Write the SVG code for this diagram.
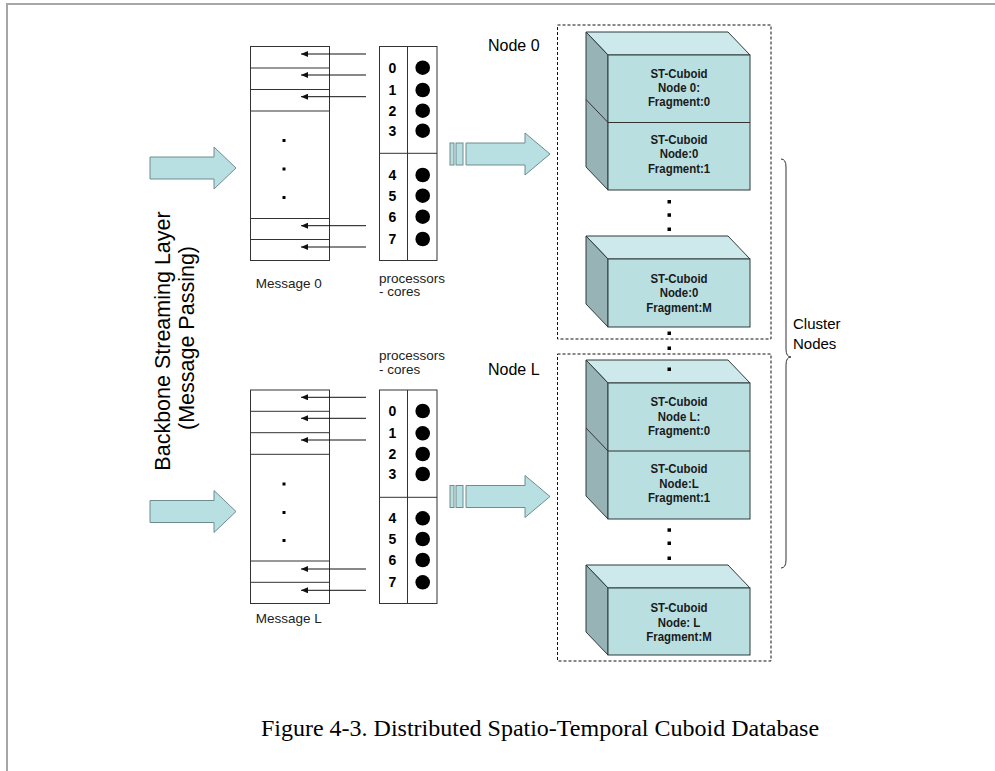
<svg xmlns="http://www.w3.org/2000/svg" width="995" height="771" viewBox="0 0 995 771">
<defs>
<style>
.frame{stroke:#a6a6a6;stroke-width:2;fill:none}
.box{fill:#fff;stroke:#333;stroke-width:1}
.ln{stroke:#333;stroke-width:1;fill:none}
.msgarrow{stroke:#111;stroke-width:1;fill:none;marker-end:url(#ah)}
.big{fill:#b8dfe1;stroke:#6f8c8e;stroke-width:1}
.front{fill:#b9dfe1;stroke:#2f3b3b;stroke-width:1}
.top{fill:#cde9eb;stroke:#2f3b3b;stroke-width:1}
.side{fill:#98b3b5;stroke:#2f3b3b;stroke-width:1}
.dash{fill:none;stroke:#111;stroke-width:1;stroke-dasharray:3,2}
.num{font-family:"Liberation Sans",Arial,sans-serif;font-weight:bold;font-size:14px;fill:#000;text-anchor:middle}
.lbl{font-family:"Liberation Sans",Arial,sans-serif;font-size:13.5px;fill:#222}
.node{font-family:"Liberation Sans",Arial,sans-serif;font-size:16px;fill:#000}
.cub{font-family:"Liberation Sans",Arial,sans-serif;font-weight:bold;font-size:13px;fill:#1a1a1a;text-anchor:middle}
.side-t{font-family:"Liberation Sans",Arial,sans-serif;font-size:21.5px;fill:#000;text-anchor:middle}
.clu{font-family:"Liberation Sans",Arial,sans-serif;font-size:15px;fill:#000}
.cap{font-family:"Liberation Serif","Times New Roman",serif;font-size:24px;fill:#000;text-anchor:middle}
</style>
<marker id="ah" markerWidth="7" markerHeight="6" refX="7" refY="3" orient="auto" markerUnits="userSpaceOnUse">
<path d="M0,0 L7,3 L0,6 Z" fill="#111"/>
</marker>
</defs>
<rect width="995" height="771" fill="#fff"/>
<line class="frame" x1="7" y1="4" x2="995" y2="4"/>
<line class="frame" x1="7" y1="3" x2="7" y2="771"/>

<g id="backbone-label">
<text class="side-t" transform="translate(170,341) rotate(-90)">Backbone Streaming Layer</text>
<text class="side-t" transform="translate(194,338) rotate(-90)">(Message Passing)</text>
</g>

<g id="input-arrow-0"><polygon class="big" points="150,157 214,157 214,147 236,168 214,189 214,179 150,179"/></g>
<g id="input-arrow-L"><polygon class="big" points="150,500.5 214,500.5 214,490.5 236,511.5 214,532.5 214,522.5 150,522.5"/></g>

<g id="message-0">
<rect class="box" x="250.5" y="46.5" width="79" height="214"/>
<line class="ln" x1="250.5" y1="68" x2="329.5" y2="68"/>
<line class="ln" x1="250.5" y1="89.5" x2="329.5" y2="89.5"/>
<line class="ln" x1="250.5" y1="111" x2="329.5" y2="111"/>
<line class="ln" x1="250.5" y1="218.5" x2="329.5" y2="218.5"/>
<line class="ln" x1="250.5" y1="239.5" x2="329.5" y2="239.5"/>
<rect x="282.5" y="139" width="3" height="3" fill="#000"/>
<rect x="282.5" y="167.5" width="3" height="3" fill="#000"/>
<rect x="282.5" y="196" width="3" height="3" fill="#000"/>
<text class="lbl" x="288.7" y="288" text-anchor="middle">Message 0</text>
</g>

<g id="message-L">
<rect class="box" x="250.5" y="390" width="79" height="213.5"/>
<line class="ln" x1="250.5" y1="411.3" x2="329.5" y2="411.3"/>
<line class="ln" x1="250.5" y1="432.7" x2="329.5" y2="432.7"/>
<line class="ln" x1="250.5" y1="454.3" x2="329.5" y2="454.3"/>
<line class="ln" x1="250.5" y1="561" x2="329.5" y2="561"/>
<line class="ln" x1="250.5" y1="582.3" x2="329.5" y2="582.3"/>
<rect x="282.5" y="482.5" width="3" height="3" fill="#000"/>
<rect x="282.5" y="511" width="3" height="3" fill="#000"/>
<rect x="282.5" y="539" width="3" height="3" fill="#000"/>
<text class="lbl" x="288.7" y="623" text-anchor="middle">Message L</text>
</g>

<g id="processors-0">
<rect class="box" x="379.5" y="46.5" width="57.5" height="214"/>
<line class="ln" x1="407.5" y1="46.5" x2="407.5" y2="260.5"/>
<line class="ln" x1="379.5" y1="153.3" x2="437" y2="153.3"/>
<text class="num" x="392.5" y="72.7">0</text>
<text class="num" x="392.5" y="95">1</text>
<text class="num" x="392.5" y="115.7">2</text>
<text class="num" x="392.5" y="135.7">3</text>
<text class="num" x="392.5" y="180">4</text>
<text class="num" x="392.5" y="200.7">5</text>
<text class="num" x="392.5" y="221.7">6</text>
<text class="num" x="392.5" y="244">7</text>
<circle cx="422.7" cy="67.7" r="7.3"/>
<circle cx="422.7" cy="90" r="7.3"/>
<circle cx="422.7" cy="110.7" r="7.3"/>
<circle cx="422.7" cy="130.7" r="7.3"/>
<circle cx="422.7" cy="175" r="7.3"/>
<circle cx="422.7" cy="195.7" r="7.3"/>
<circle cx="422.7" cy="216.7" r="7.3"/>
<circle cx="422.7" cy="239" r="7.3"/>
<text class="lbl" x="379" y="282.5">processors</text>
<text class="lbl" x="379" y="296">- cores</text>
</g>

<g id="processors-L">
<rect class="box" x="379.5" y="390" width="57.5" height="213.5"/>
<line class="ln" x1="407.5" y1="390" x2="407.5" y2="603.5"/>
<line class="ln" x1="379.5" y1="497.3" x2="437" y2="497.3"/>
<text class="num" x="392.5" y="416">0</text>
<text class="num" x="392.5" y="438.3">1</text>
<text class="num" x="392.5" y="459">2</text>
<text class="num" x="392.5" y="479">3</text>
<text class="num" x="392.5" y="523.3">4</text>
<text class="num" x="392.5" y="544">5</text>
<text class="num" x="392.5" y="565">6</text>
<text class="num" x="392.5" y="587.3">7</text>
<circle cx="422.7" cy="411" r="7.3"/>
<circle cx="422.7" cy="433.3" r="7.3"/>
<circle cx="422.7" cy="454" r="7.3"/>
<circle cx="422.7" cy="474" r="7.3"/>
<circle cx="422.7" cy="518.3" r="7.3"/>
<circle cx="422.7" cy="539" r="7.3"/>
<circle cx="422.7" cy="560" r="7.3"/>
<circle cx="422.7" cy="582.3" r="7.3"/>
<text class="lbl" x="379" y="359.5">processors</text>
<text class="lbl" x="379" y="373.5">- cores</text>
</g>

<g id="connectors">
<line class="msgarrow" x1="366" y1="54" x2="301" y2="54"/>
<line class="msgarrow" x1="366" y1="75" x2="301" y2="75"/>
<line class="msgarrow" x1="366" y1="96.7" x2="301" y2="96.7"/>
<line class="msgarrow" x1="366" y1="225.7" x2="301" y2="225.7"/>
<line class="msgarrow" x1="366" y1="247" x2="301" y2="247"/>
<line class="msgarrow" x1="366" y1="397.3" x2="301" y2="397.3"/>
<line class="msgarrow" x1="366" y1="418.3" x2="301" y2="418.3"/>
<line class="msgarrow" x1="366" y1="440" x2="301" y2="440"/>
<line class="msgarrow" x1="366" y1="569" x2="301" y2="569"/>
<line class="msgarrow" x1="366" y1="590.3" x2="301" y2="590.3"/>
</g>

<g id="node-arrow-0">
<rect class="big" x="450" y="143" width="4" height="22"/>
<rect class="big" x="456" y="143" width="7" height="22"/>
<polygon class="big" points="466,143 525,143 525,133 550,154 525,175 525,165 466,165"/>
</g>
<g id="node-arrow-L">
<rect class="big" x="450" y="485.5" width="4" height="22"/>
<rect class="big" x="456" y="485.5" width="7" height="22"/>
<polygon class="big" points="466,485.5 525,485.5 525,475.5 550,496.5 525,517.5 525,507.5 466,507.5"/>
</g>

<g id="node-0">
<rect class="dash" x="557.5" y="25" width="213.5" height="314"/>
<text class="node" x="488" y="50.5">Node 0</text>
</g>
<g id="node-L">
<rect class="dash" x="557.5" y="354" width="213.5" height="307"/>
<text class="node" x="488" y="375">Node L</text>
</g>

<g id="cuboid-0-01">
<polygon class="top" points="586,32 728,32 750,55 608,55"/>
<polygon class="side" points="586,32 608,55 608,190 586,167"/>
<line class="ln" x1="586" y1="99.5" x2="608" y2="122.5"/>
<rect class="front" x="608" y="55" width="142" height="135"/>
<line class="ln" x1="608" y1="122.5" x2="750" y2="122.5"/>
<g transform="translate(679 0) scale(0.88 1)">
<text class="cub" x="0" y="78">ST-Cuboid</text>
<text class="cub" x="0" y="92">Node 0:</text>
<text class="cub" x="0" y="106.5">Fragment:0</text>
<text class="cub" x="0" y="144">ST-Cuboid</text>
<text class="cub" x="0" y="158.5">Node:0</text>
<text class="cub" x="0" y="173">Fragment:1</text>
</g>
</g>
<g id="cuboid-0-M">
<polygon class="top" points="586,236 728,236 750,259 608,259"/>
<polygon class="side" points="586,236 608,259 608,327 586,304"/>
<rect class="front" x="608" y="259" width="142" height="68"/>
<g transform="translate(679 0) scale(0.88 1)">
<text class="cub" x="0" y="283">ST-Cuboid</text>
<text class="cub" x="0" y="297.5">Node:0</text>
<text class="cub" x="0" y="312">Fragment:M</text>
</g>
</g>
<g id="cuboid-L-01">
<polygon class="top" points="586,360 728,360 750,383 608,383"/>
<polygon class="side" points="586,360 608,383 608,519 586,496"/>
<line class="ln" x1="586" y1="428" x2="608" y2="451"/>
<rect class="front" x="608" y="383" width="142" height="136"/>
<line class="ln" x1="608" y1="451" x2="750" y2="451"/>
<g transform="translate(679 0) scale(0.88 1)">
<text class="cub" x="0" y="406.5">ST-Cuboid</text>
<text class="cub" x="0" y="421.3">Node L:</text>
<text class="cub" x="0" y="435.5">Fragment:0</text>
<text class="cub" x="0" y="473">ST-Cuboid</text>
<text class="cub" x="0" y="488">Node:L</text>
<text class="cub" x="0" y="502.5">Fragment:1</text>
</g>
</g>
<g id="cuboid-L-M">
<polygon class="top" points="586,565 728,565 750,588 608,588"/>
<polygon class="side" points="586,565 608,588 608,655 586,632"/>
<rect class="front" x="608" y="588" width="142" height="67"/>
<g transform="translate(679 0) scale(0.88 1)">
<text class="cub" x="0" y="612">ST-Cuboid</text>
<text class="cub" x="0" y="627">Node: L</text>
<text class="cub" x="0" y="641">Fragment:M</text>
</g>
</g>

<g id="ellipsis-dots" fill="#000">
<rect x="667.5" y="200" width="3.5" height="3.5"/>
<rect x="667.5" y="213.3" width="3.5" height="3.5"/>
<rect x="667.5" y="227.5" width="3.5" height="3.5"/>
<rect x="667.5" y="331.5" width="3.5" height="3.5"/>
<rect x="667.5" y="346.5" width="3.5" height="3.5"/>
<rect x="667.5" y="367.5" width="3.5" height="3.5"/>
<rect x="667.5" y="528.3" width="3.5" height="3.5"/>
<rect x="667.5" y="541.5" width="3.5" height="3.5"/>
<rect x="667.5" y="556.5" width="3.5" height="3.5"/>
</g>

<g id="cluster-nodes">
<path class="ln" d="M781,159 Q786,159 786,167 L786,349 Q786,357 791,357 Q786,357 786,365 L786,560 Q786,568 781,568" stroke="#555"/>
<text class="clu" x="793" y="329">Cluster</text>
<text class="clu" x="793" y="349">Nodes</text>
</g>

<text class="cap" x="540" y="736">Figure 4-3. Distributed Spatio-Temporal Cuboid Database</text>
</svg>
